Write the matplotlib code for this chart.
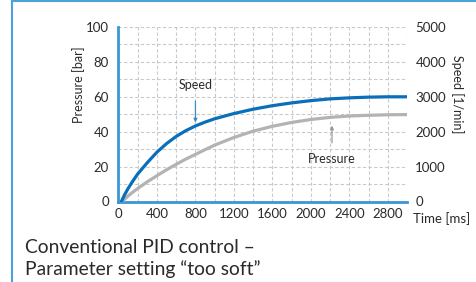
import matplotlib
matplotlib.use("Agg")
import matplotlib.pyplot as plt
from matplotlib.ticker import MultipleLocator
from matplotlib.lines import Line2D

plt.rcParams['font.family'] = ['Lato', 'DejaVu Sans']

# ---- data ----
time_ms = [30, 60, 100, 150, 200, 300, 400, 500, 600, 700, 800, 900, 1000,
           1200, 1400, 1600, 1800, 2000, 2200, 2400, 2600, 2800, 3000]
speed_rpm = [0, 175, 375, 590, 790, 1115, 1415, 1660, 1865, 2030, 2165, 2275, 2370,
             2520, 2645, 2745, 2825, 2890, 2940, 2970, 2990, 3000, 3000]
pressure_bar = [0, 1.1, 3.2, 5.4, 7.5, 11.3, 14.8, 18.2, 21.3, 24.3, 27.0, 29.7, 32.3,
                36.7, 40.3, 43.1, 45.3, 47.0, 48.2, 49.0, 49.4, 49.7, 49.8]

x_ticks = [0, 400, 800, 1200, 1600, 2000, 2400, 2800]
p_ticks = [0, 20, 40, 60, 80, 100]
s_ticks = [0, 1000, 2000, 3000, 4000, 5000]

caption = ["Conventional PID control \u2013", "Parameter setting \u201ctoo soft\u201d"]

TXT = '#2a2a2a'
BLUE = '#0a6fba'
SPINE = '#3a97d3'
GRAY = '#b3b3b3'
GRID = '#c9c9c9'

W, H = 477, 282
fig = plt.figure(figsize=(W / 100, H / 100), dpi=100)
ax = fig.add_axes([118.5 / W, 1 - 201.5 / H, (407 - 118.5) / W, (201.5 - 27) / H])
ax2 = ax.twinx()

ax.set_xlim(0, 3000)
ax.set_ylim(0, 100)
ax2.set_ylim(0, 5000)

ax.set_xticks(x_ticks)
ax.set_yticks(p_ticks)
ax2.set_yticks(s_ticks)
ax.xaxis.set_minor_locator(MultipleLocator(200))
ax.yaxis.set_minor_locator(MultipleLocator(10))

ax.grid(True, which='both', color=GRID, linestyle=(0, (3, 2)), linewidth=0.8)
ax.set_axisbelow(True)

for a in (ax, ax2):
    for s in a.spines.values():
        s.set_visible(False)
    a.tick_params(which='both', length=0, labelsize=9.5, labelcolor=TXT)
ax.spines['left'].set_visible(True)
ax.spines['bottom'].set_visible(True)
ax.spines['left'].set_color(SPINE)
ax.spines['bottom'].set_color(SPINE)
ax.spines['left'].set_linewidth(2)
ax.spines['bottom'].set_linewidth(2)
ax.tick_params(axis='y', pad=7)
ax.tick_params(axis='x', pad=5)
ax2.tick_params(axis='y', pad=6)

ax.plot(time_ms, pressure_bar, color=GRAY, linewidth=2.3, solid_capstyle='round',
        solid_joinstyle='round', zorder=3)
ax2.plot(time_ms, speed_rpm, color=BLUE, linewidth=2.3, solid_capstyle='round',
         solid_joinstyle='round', zorder=4)

# annotations
ax.annotate("Speed", xy=(800, 45.3), xytext=(800, 66.5), ha='center', va='center',
            fontsize=9, color=TXT,
            arrowprops=dict(arrowstyle='-|>', color='#3a8cc6', lw=0.9,
                            mutation_scale=5, shrinkA=5, shrinkB=0))
ax.annotate("Pressure", xy=(2220, 43.5), xytext=(2220, 24.6), ha='center', va='center',
            fontsize=9, color=TXT,
            arrowprops=dict(arrowstyle='-|>', color='#9a9a9a', lw=0.9,
                            mutation_scale=5, shrinkA=5, shrinkB=0))

ax.annotate("Time [ms]", xy=(1, 0), xycoords='axes fraction', xytext=(4.5, -12.5),
            textcoords='offset points', ha='left', va='center', fontsize=9.5, color=TXT)

fig.text(79 / W, 1 - 84.5 / H, "Pressure [bar]", rotation=90, ha='center', va='center',
         fontsize=9, color=TXT)
fig.text(457 / W, 1 - 94 / H, "Speed [1/min]", rotation=270, ha='center', va='center',
         fontsize=9, color=TXT)

fig.text(25 / W, 1 - 253.3 / H, caption[0], ha='left', va='baseline', fontsize=13.9, color=TXT)
fig.text(25 / W, 1 - 275 / H, caption[1], ha='left', va='baseline', fontsize=13.9, color=TXT)

# frame
fig.add_artist(Line2D([12.5 / W, 12.5 / W], [0, 1 - 1.0 / H], transform=fig.transFigure,
                      color='#4ea2da', linewidth=1.5))
fig.add_artist(Line2D([12.5 / W, 1], [1 - 1.0 / H, 1 - 1.0 / H], transform=fig.transFigure,
                      color='#4ea2da', linewidth=1.5))

fig.savefig("out.png", dpi=100)
